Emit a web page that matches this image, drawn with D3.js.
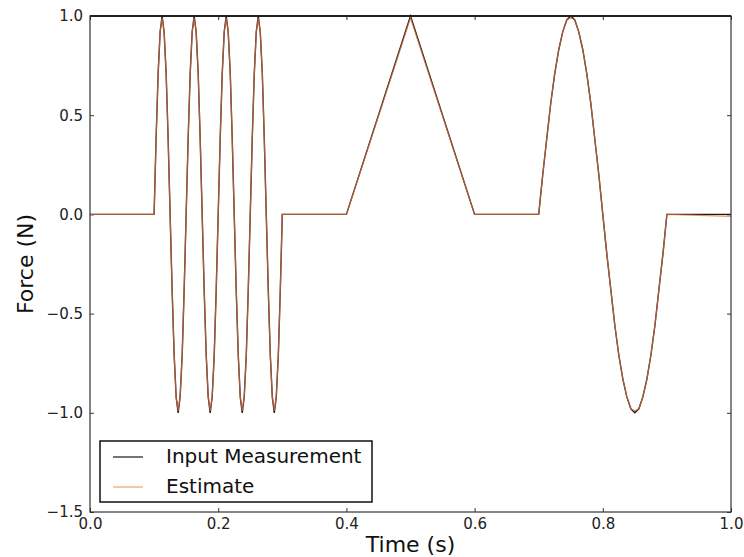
<!DOCTYPE html>
<html>
<head>
<meta charset="utf-8">
<script src="https://cdn.jsdelivr.net/npm/d3@7"></script>
<style>
	body { margin: 0; background: #fff; }
	svg { display: block; font-family: "DejaVu Sans", sans-serif; }
</style>
</head>
<body>
<svg class="chart"></svg>
<script>
// time samples (s)
var timeS = [0, 0.1,
	0.1031, 0.1063, 0.1094, 0.1125, 0.1156, 0.1188, 0.1219, 0.125, 0.1281, 0.1313, 0.1344, 0.1375, 0.1406, 0.1438, 0.1469, 0.15,
	0.1531, 0.1563, 0.1594, 0.1625, 0.1656, 0.1688, 0.1719, 0.175, 0.1781, 0.1813, 0.1844, 0.1875, 0.1906, 0.1938, 0.1969, 0.2,
	0.2031, 0.2063, 0.2094, 0.2125, 0.2156, 0.2188, 0.2219, 0.225, 0.2281, 0.2313, 0.2344, 0.2375, 0.2406, 0.2438, 0.2469, 0.25,
	0.2531, 0.2563, 0.2594, 0.2625, 0.2656, 0.2688, 0.2719, 0.275, 0.2781, 0.2813, 0.2844, 0.2875, 0.2906, 0.2938, 0.2969, 0.3,
	0.4, 0.5, 0.6, 0.7,
	0.7063, 0.7125, 0.7188, 0.725, 0.7313, 0.7375, 0.7438, 0.75, 0.7563, 0.7625, 0.7688, 0.775, 0.7813, 0.7875, 0.7938, 0.8,
	0.8063, 0.8125, 0.8188, 0.825, 0.8313, 0.8375, 0.8438, 0.85, 0.8563, 0.8625, 0.8688, 0.875, 0.8813, 0.8875, 0.8938, 0.9,
	1.0];

// measured force (N)
var inputForce = [0, 0,
	0.38, 0.71, 0.92, 1, 0.92, 0.71, 0.38, 0, -0.38, -0.71, -0.92, -1, -0.92, -0.71, -0.38, 0,
	0.38, 0.71, 0.92, 1, 0.92, 0.71, 0.38, 0, -0.38, -0.71, -0.92, -1, -0.92, -0.71, -0.38, 0,
	0.38, 0.71, 0.92, 1, 0.92, 0.71, 0.38, 0, -0.38, -0.71, -0.92, -1, -0.92, -0.71, -0.38, 0,
	0.38, 0.71, 0.92, 1, 0.92, 0.71, 0.38, 0, -0.38, -0.71, -0.92, -1, -0.92, -0.71, -0.38, 0,
	0, 1, 0, 0,
	0.2, 0.38, 0.56, 0.71, 0.83, 0.92, 0.98, 1, 0.98, 0.92, 0.83, 0.71, 0.56, 0.38, 0.2, 0,
	-0.2, -0.38, -0.56, -0.71, -0.83, -0.92, -0.98, -1, -0.98, -0.92, -0.83, -0.71, -0.56, -0.38, -0.2, 0,
	0];

// estimated force (N)
var estimateForce = [0, 0,
	0.38, 0.71, 0.92, 0.99, 0.92, 0.71, 0.38, 0, -0.38, -0.71, -0.92, -0.99, -0.92, -0.71, -0.38, 0,
	0.38, 0.71, 0.92, 0.99, 0.92, 0.71, 0.38, 0, -0.38, -0.71, -0.92, -0.99, -0.92, -0.71, -0.38, 0,
	0.38, 0.71, 0.92, 0.99, 0.92, 0.71, 0.38, 0, -0.38, -0.71, -0.92, -0.99, -0.92, -0.71, -0.38, 0,
	0.38, 0.71, 0.92, 0.99, 0.92, 0.71, 0.38, 0, -0.38, -0.71, -0.92, -0.99, -0.92, -0.71, -0.38, 0,
	0, 0.99, 0, 0,
	0.2, 0.38, 0.56, 0.71, 0.83, 0.92, 0.98, 0.99, 0.98, 0.92, 0.83, 0.71, 0.56, 0.38, 0.2, 0,
	-0.2, -0.38, -0.56, -0.71, -0.83, -0.92, -0.98, -0.99, -0.98, -0.92, -0.83, -0.71, -0.56, -0.38, -0.2, 0,
	-0.01];

var xTicks = [0, 0.2, 0.4, 0.6, 0.8, 1.0];
var yTicks = [-1.5, -1.0, -0.5, 0.0, 0.5, 1.0];
var seriesNames = ["Input Measurement", "Estimate"];

var width = 744;
var height = 557;
var margin = { top: 16, right: 13, bottom: 45, left: 90 };
var innerW = width - margin.left - margin.right;
var innerH = height - margin.top - margin.bottom;

var svg = d3.select(".chart")
	.attr("width", width)
	.attr("height", height);

var g = svg.append("g")
	.attr("transform", "translate(" + margin.left + "," + margin.top + ")");

var x = d3.scaleLinear().domain([0, 1]).range([0, innerW]);
var y = d3.scaleLinear().domain([-1.5, 1]).range([innerH, 0]);

var fmt = d3.format(".1f");

// axes with inward ticks, matplotlib style
g.append("g")
	.attr("transform", "translate(0," + innerH + ")")
	.call(d3.axisBottom(x).tickValues(xTicks).tickSize(-4).tickPadding(6).tickFormat(fmt));

g.append("g")
	.call(d3.axisTop(x).tickValues(xTicks).tickSize(-4).tickFormat(""));

g.append("g")
	.call(d3.axisLeft(y).tickValues(yTicks).tickSize(-4).tickPadding(7).tickFormat(fmt));

g.append("g")
	.attr("transform", "translate(" + innerW + ",0)")
	.call(d3.axisRight(y).tickValues(yTicks).tickSize(-4).tickFormat(""));

g.selectAll(".domain").remove();
g.selectAll(".tick line").attr("stroke", "#333");
g.selectAll(".tick text")
	.attr("fill", "#222")
	.style("font-size", "15px")
	.style("font-family", "DejaVu Sans");

// lines
var line = function(values) {
	return d3.line()
		.x(function(d, i) { return x(timeS[i]); })
		.y(function(d) { return y(d); })(values);
};

g.append("path")
	.attr("d", line(inputForce))
	.attr("fill", "none")
	.attr("stroke", "#1a1a1a")
	.attr("stroke-width", 1.4);

g.append("path")
	.attr("d", line(estimateForce))
	.attr("fill", "none")
	.attr("stroke", "#e07040")
	.attr("stroke-opacity", 0.75)
	.attr("stroke-width", 1.2);

// frame
g.append("rect")
	.attr("width", innerW)
	.attr("height", innerH)
	.attr("fill", "none")
	.attr("stroke", "#333")
	.attr("stroke-width", 1.2);

g.append("line")
	.attr("x1", 0).attr("x2", innerW)
	.attr("y1", 0).attr("y2", 0)
	.attr("stroke", "#222")
	.attr("stroke-width", 2);

// axis labels
svg.append("text")
	.attr("x", margin.left + innerW / 2)
	.attr("y", 552)
	.attr("text-anchor", "middle")
	.attr("fill", "#111")
	.style("font-size", "22px")
	.text("Time (s)");

svg.append("text")
	.attr("transform", "translate(33," + (margin.top + innerH / 2) + ") rotate(-90)")
	.attr("text-anchor", "middle")
	.attr("fill", "#111")
	.style("font-size", "22px")
	.text("Force (N)");

// legend
var legend = g.append("g")
	.attr("transform", "translate(10," + (innerH - 71) + ")");

legend.append("rect")
	.attr("width", 272)
	.attr("height", 61)
	.attr("fill", "#fff")
	.attr("stroke", "#111")
	.attr("stroke-width", 1.5);

var legendColors = ["#1a1a1a", "#f0a070"];

seriesNames.forEach(function(name, i) {
	var ly = 16 + i * 30;
	legend.append("line")
		.attr("x1", 13).attr("x2", 43)
		.attr("y1", ly).attr("y2", ly)
		.attr("stroke", legendColors[i])
		.attr("stroke-width", 1.2);
	legend.append("text")
		.attr("x", 66)
		.attr("y", ly + 6)
		.attr("fill", "#111")
		.style("font-size", "20px")
		.text(name);
});
</script>
</body>
</html>
